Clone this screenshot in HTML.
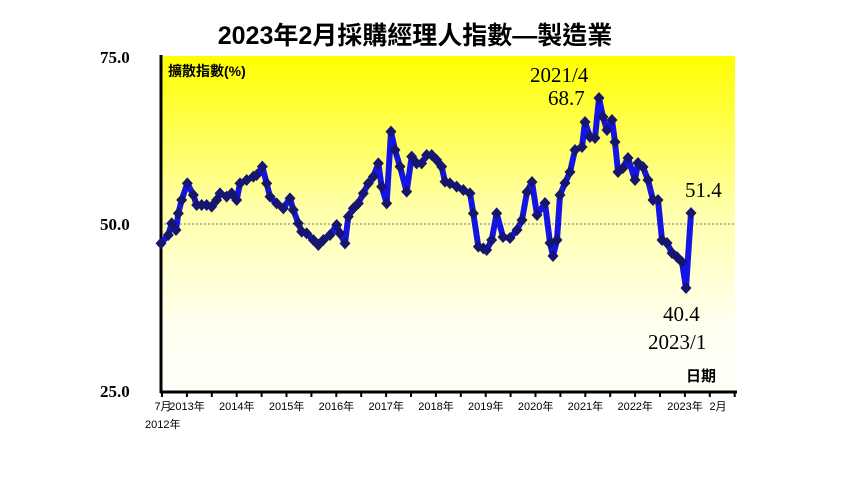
<!DOCTYPE html>
<html><head><meta charset="utf-8"><style>
body{margin:0;background:#fff;width:850px;height:478px;overflow:hidden}
svg{display:block}
</style></head><body>
<svg id="s" width="850" height="478" xmlns="http://www.w3.org/2000/svg">
<defs><linearGradient id="g" x1="0" y1="0" x2="0" y2="1">
<stop offset="0" stop-color="#ffff00"/><stop offset="0.45" stop-color="#ffffa8"/><stop offset="0.8" stop-color="#fffff0"/><stop offset="1" stop-color="#fffffa"/></linearGradient></defs>
<text x="415" y="44" font-family="Liberation Sans,'Noto Sans CJK TC',sans-serif" font-size="25" font-weight="bold" text-anchor="middle">2023年2月採購經理人指數—製造業</text>
<rect x="160" y="56" width="575" height="336" fill="url(#g)"/>
<line x1="160" y1="224" x2="735" y2="224" stroke="#777" stroke-dasharray="2,2" stroke-width="1"/>
<line x1="161" y1="55" x2="161" y2="393" stroke="#000" stroke-width="3"/>
<line x1="160" y1="392" x2="737" y2="392" stroke="#000" stroke-width="3"/>
<g font-family="Liberation Serif,serif" font-weight="bold" font-size="17">
<text x="100" y="63">75.0</text><text x="100" y="230">50.0</text><text x="100" y="397">25.0</text></g>
<text x="168" y="76" font-family="Liberation Sans,'Noto Sans CJK TC',sans-serif" font-size="14" font-weight="bold">擴散指數(%)</text>
<text x="686" y="381" font-family="Liberation Sans,'Noto Sans CJK TC',sans-serif" font-size="15" font-weight="bold">日期</text>
<g id="ticks"></g>
<g font-family="Liberation Sans,'Noto Sans CJK TC',sans-serif" font-size="11" text-anchor="middle" id="xl"></g>
<text x="145" y="428" font-family="Liberation Sans,'Noto Sans CJK TC',sans-serif" font-size="11">2012年</text>
<polyline id="ln" fill="none" stroke="#1414e6" stroke-width="6" stroke-linejoin="round"/>
<g id="mk" fill="#161670"></g>
<g font-family="Liberation Serif,serif" font-size="21">
<text x="530" y="82">2021/4</text><text x="548" y="105">68.7</text>
<text x="685" y="197">51.4</text><text x="663" y="321">40.4</text><text x="648" y="349">2023/1</text></g>
</svg>
<script>
var z1=[[183,610],[205,585],[215,550],[228,570],[235,520],[245,480],[262,430],[280,465],[290,495],[305,495],[320,495],[335,500],[350,480],[360,460],[380,470],[395,460],[410,480],[420,430],[440,420],[460,410],[470,405],[487,380],[500,430],[510,470],[530,490],[550,505],[570,475],[580,510],[595,550],[605,575],[620,580],[640,600],[655,615],[670,600],[690,585],[710,555],[720,580],[735,610],[745,530],[760,505],[775,490],[790,460],[805,430],[820,410],[835,370],[845,440],[860,490],[873,275],[885,330],[900,380],[920,455],[935,350],[950,370],[965,370],[980,345],[995,345],[1010,360],[1025,380],[1035,425],[1050,430],[1070,440],[1090,450],[1110,460],[1120,520],[1135,620],[1150,625],[1160,630],[1175,600],[1190,520]];
var p=z1.map(function(a){return [100+a[0]/3,40+a[1]/3]});
p=p.concat([[503,237],[510,238],[517,230],[522,220],[527,192],[532,182],[537,215],[545,203],[550,243],[553,256],[557,240],[560,195],[565,183],[570,172],[575,150],[582,147],[585,122],[590,137],[595,138],[599,98],[603,117],[607,130],[612,120],[615,142],[618,172],[623,168],[628,158],[635,180],[638,163],[643,167],[648,180],[653,200],[658,200],[662,240],[667,243],[672,253],[677,257],[682,262],[686,288],[691,213]]);
document.getElementById('ln').setAttribute('points',p.map(function(a){return a.join(',')}).join(' '));
var mk='';p.forEach(function(a){mk+='<polygon points="'+a[0]+','+(a[1]-6)+' '+(a[0]+5.5)+','+a[1]+' '+a[0]+','+(a[1]+6)+' '+(a[0]-5.5)+','+a[1]+'"/>'});
document.getElementById('mk').innerHTML=mk;
var t='';for(var x=162;x<=737;x+=24.9){t+='<line x1="'+x+'" y1="392" x2="'+x+'" y2="397" stroke="#000" stroke-width="2"/>';}
document.getElementById('ticks').innerHTML=t;
var l='<text x="163" y="410">7月</text>';for(var i=0;i<11;i++){l+='<text x="'+(187+i*49.8)+'" y="410">'+(2013+i)+'年</text>';}
l+='<text x="718" y="410">2月</text>';
document.getElementById('xl').innerHTML=l;
</script>
</body></html>
